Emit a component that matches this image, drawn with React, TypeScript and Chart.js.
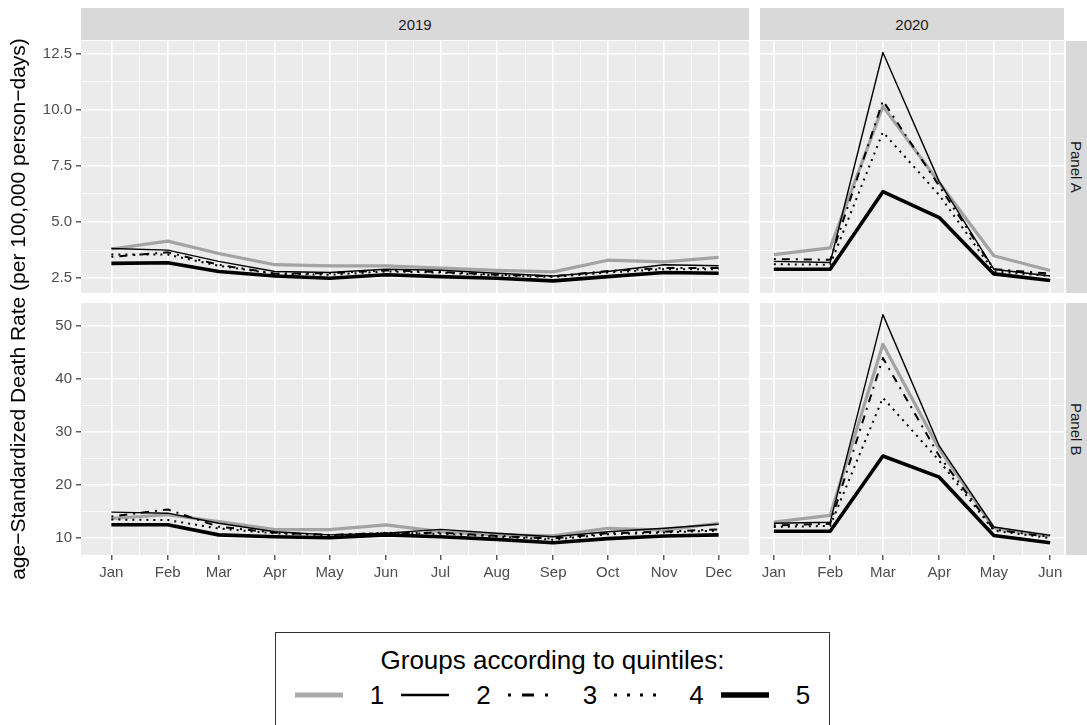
import React, { useEffect, useRef } from 'react';
import { Chart, registerables } from 'chart.js';

Chart.register(...registerables);
Chart.defaults.font.family = "'Liberation Sans', Arial, Helvetica, sans-serif";

// ---------------- data ----------------
const MONTHS_2019 = ['Jan', 'Feb', 'Mar', 'Apr', 'May', 'Jun', 'Jul', 'Aug', 'Sep', 'Oct', 'Nov', 'Dec'];
const MONTHS_2020 = ['Jan', 'Feb', 'Mar', 'Apr', 'May', 'Jun'];
const GROUP_LABELS = ['1', '2', '3', '4', '5'];

// Panel A (rows = quintile groups 1..5)
const PANEL_A_2019 = [
  [3.8, 4.15, 3.6, 3.1, 3.05, 3.05, 2.95, 2.85, 2.78, 3.3, 3.23, 3.43],
  [3.82, 3.75, 3.25, 2.8, 2.75, 2.9, 2.85, 2.72, 2.6, 2.8, 3.1, 3.05],
  [3.45, 3.65, 3.1, 2.7, 2.72, 2.85, 2.78, 2.65, 2.58, 2.82, 2.95, 2.95],
  [3.55, 3.55, 3.05, 2.7, 2.65, 2.8, 2.75, 2.62, 2.55, 2.75, 2.9, 2.9],
  [3.16, 3.19, 2.8, 2.6, 2.5, 2.65, 2.57, 2.5, 2.38, 2.57, 2.75, 2.72],
];
const PANEL_A_2020 = [
  [3.55, 3.85, 10.15, 6.75, 3.5, 2.84],
  [3.25, 3.2, 12.55, 6.8, 2.9, 2.6],
  [3.35, 3.32, 10.4, 6.6, 2.9, 2.7],
  [3.12, 3.1, 9.0, 6.2, 2.8, 2.6],
  [2.9, 2.9, 6.35, 5.2, 2.69, 2.4],
];

// Panel B
const PANEL_B_2019 = [
  [13.7, 14.4, 13.1, 11.6, 11.6, 12.5, 11.2, 10.6, 10.4, 11.85, 11.5, 12.8],
  [14.9, 14.7, 12.8, 11.2, 10.6, 10.9, 11.65, 10.9, 10.25, 11.2, 11.85, 12.6],
  [14.05, 15.4, 12.15, 11.0, 10.6, 10.9, 11.0, 10.4, 9.9, 10.9, 11.2, 11.65],
  [13.5, 13.4, 11.8, 10.9, 10.5, 11.0, 10.8, 10.3, 9.7, 10.7, 11.05, 11.4],
  [12.5, 12.5, 10.6, 10.25, 10.05, 10.6, 10.25, 9.75, 9.1, 9.9, 10.4, 10.6],
];
const PANEL_B_2020 = [
  [13.0, 14.3, 46.6, 26.8, 11.9, 10.4],
  [12.8, 13.0, 52.2, 27.4, 12.1, 10.5],
  [12.4, 12.7, 44.0, 25.5, 11.6, 10.2],
  [12.1, 12.3, 36.5, 24.6, 11.4, 10.0],
  [11.3, 11.3, 25.5, 21.5, 10.5, 9.1],
];

const PANEL_A_TICKS = [2.5, 5.0, 7.5, 10.0, 12.5];
const PANEL_B_TICKS = [10, 20, 30, 40, 50];
const PANEL_A_LIMITS = [1.84, 13.06];
const PANEL_B_LIMITS = [6.8, 54.4];

// ---------------- styles ----------------
const SERIES_STYLE = [
  { color: '#A3A3A3', width: 3.2, dash: [] as number[] },
  { color: '#000000', width: 1.4, dash: [] as number[] },
  { color: '#000000', width: 2, dash: [2, 6, 8, 6] },
  { color: '#000000', width: 2, dash: [2, 5] },
  { color: '#000000', width: 3.6, dash: [] as number[] },
];

const FONT = "'Liberation Sans', Arial, Helvetica, sans-serif";
const PANEL_BG = '#EBEBEB';
const STRIP_BG = '#D9D9D9';
const TICK_TEXT = '#4D4D4D';

const LEFT_X = 81;
const LEFT_W = 668;
const RIGHT_X = 760;
const RIGHT_W = 304;
const TOP_Y = 41;
const BOT_Y = 303;
const ROW_H = 252;
const Y_AXIS_W = 80;
const X_AXIS_H = 32;

function dayOffset(year: number, monthIndex: number): number {
  return Math.round((Date.UTC(year, monthIndex, 1) - Date.UTC(year, 0, 1)) / 86400000);
}

function midpoints(vals: number[]): number[] {
  const out: number[] = [];
  for (let i = 0; i < vals.length - 1; i++) out.push((vals[i] + vals[i + 1]) / 2);
  return out;
}

const panelBg = {
  id: 'panelBg',
  beforeDraw(chart: any) {
    const { ctx, chartArea: a } = chart;
    ctx.save();
    ctx.fillStyle = PANEL_BG;
    ctx.fillRect(a.left, a.top, a.right - a.left, a.bottom - a.top);
    ctx.restore();
  },
};

type PanelProps = {
  year: number;
  months: string[];
  series: number[][];
  yTicks: number[];
  yLimits: number[];
  yDecimals: number;
  showY: boolean;
  showX: boolean;
  left: number;
  top: number;
  width: number;
};

function Panel(p: PanelProps) {
  const ref = useRef<HTMLCanvasElement | null>(null);
  const cw = p.width + (p.showY ? Y_AXIS_W : 0);
  const ch = ROW_H + (p.showX ? X_AXIS_H : 0);
  const cl = p.left - (p.showY ? Y_AXIS_W : 0);

  useEffect(() => {
    if (!ref.current) return;
    const xs = p.months.map((_, i) => dayOffset(p.year, i));
    const span = xs[xs.length - 1] - xs[0];
    const xMin = xs[0] - 0.05 * span;
    const xMax = xs[xs.length - 1] + 0.05 * span;
    const [yMin, yMax] = p.yLimits;
    const yStep = p.yTicks[1] - p.yTicks[0];
    const yMinor = midpoints([p.yTicks[0] - yStep, ...p.yTicks, p.yTicks[p.yTicks.length - 1] + yStep]).filter(
      (v) => v > yMin && v < yMax
    );
    const xMinor = midpoints(xs).filter((v) => v > xMin && v < xMax);

    const makeTicks = (major: number[], minor: number[]) =>
      [...major.map((v) => ({ value: v, kind: 'major' })), ...minor.map((v) => ({ value: v, kind: 'minor' }))].sort(
        (a, b) => a.value - b.value
      );

    const gridOpts = (drawTicks: boolean) => ({
      color: '#FFFFFF',
      lineWidth: (c: any) => (c.tick && c.tick.kind === 'major' ? 1.6 : 0.8),
      tickColor: (c: any) => (c.tick && c.tick.kind === 'major' ? '#333333' : 'rgba(0,0,0,0)'),
      tickWidth: 1.2,
      tickLength: 5,
      drawTicks,
    });

    const chart = new Chart(ref.current, {
      type: 'line',
      data: {
        datasets: p.series.map((vals, g) => ({
          label: GROUP_LABELS[g],
          data: vals.map((v, i) => ({ x: xs[i], y: v })),
          borderColor: SERIES_STYLE[g].color,
          backgroundColor: SERIES_STYLE[g].color,
          borderWidth: SERIES_STYLE[g].width,
          borderDash: SERIES_STYLE[g].dash,
          borderCapStyle: 'butt',
          borderJoinStyle: 'round',
          pointRadius: 0,
          pointHoverRadius: 0,
          tension: 0,
          fill: false,
          order: 4 - g,
        })),
      },
      options: {
        animation: false,
        responsive: false,
        maintainAspectRatio: false,
        devicePixelRatio: 1,
        events: [],
        layout: { padding: 0 },
        plugins: { legend: { display: false }, tooltip: { enabled: false }, title: { display: false } },
        scales: {
          x: {
            type: 'linear',
            min: xMin,
            max: xMax,
            border: { display: false },
            grid: gridOpts(p.showX),
            afterBuildTicks: (scale: any) => {
              scale.ticks = makeTicks(xs, xMinor);
            },
            afterFit: (scale: any) => {
              scale.height = p.showX ? X_AXIS_H : 0;
              scale.paddingLeft = 0;
              scale.paddingRight = 0;
              scale.paddingTop = 0;
              scale.paddingBottom = 0;
            },
            ticks: {
              display: p.showX,
              autoSkip: false,
              maxRotation: 0,
              minRotation: 0,
              padding: 4,
              color: TICK_TEXT,
              font: { size: 15, family: FONT },
              callback: function (_v: any, i: number, ticks: any[]) {
                const t = ticks[i];
                if (t.kind !== 'major') return '';
                return p.months[xs.indexOf(t.value)];
              },
            },
          },
          y: {
            type: 'linear',
            min: yMin,
            max: yMax,
            border: { display: false },
            grid: gridOpts(p.showY),
            afterBuildTicks: (scale: any) => {
              scale.ticks = makeTicks(p.yTicks, yMinor);
            },
            afterFit: (scale: any) => {
              scale.width = p.showY ? Y_AXIS_W : 0;
              scale.paddingLeft = 0;
              scale.paddingRight = 0;
              scale.paddingTop = 0;
              scale.paddingBottom = 0;
            },
            ticks: {
              display: p.showY,
              autoSkip: false,
              padding: 4,
              color: TICK_TEXT,
              font: { size: 15, family: FONT },
              callback: function (_v: any, i: number, ticks: any[]) {
                const t = ticks[i];
                if (t.kind !== 'major') return '';
                return t.value.toFixed(p.yDecimals);
              },
            },
          },
        },
      },
      plugins: [panelBg],
    } as any);
    return () => chart.destroy();
  }, []);

  return (
    <canvas
      ref={ref}
      width={cw}
      height={ch}
      style={{ position: 'absolute', left: cl, top: p.top, width: cw, height: ch }}
    />
  );
}

function LegendKey({ g }: { g: number }) {
  const s = SERIES_STYLE[g];
  const widths = [5, 2.5, 2.8, 2.8, 5.5];
  const dashes = ['', '', '3,11,12,11,3,30', '3,10', ''];
  const colors = ['#ABABAB', '#000', '#000', '#000', '#000'];
  return (
    <svg width={48} height={14} style={{ display: 'block' }}>
      <line
        x1={0}
        y1={7}
        x2={48}
        y2={7}
        stroke={colors[g] || s.color}
        strokeWidth={widths[g]}
        strokeDasharray={dashes[g] || undefined}
      />
    </svg>
  );
}

export default function App() {
  const stripText: React.CSSProperties = {
    position: 'absolute',
    background: STRIP_BG,
    color: '#1A1A1A',
    fontSize: 15,
    fontFamily: FONT,
    display: 'flex',
    alignItems: 'center',
    justifyContent: 'center',
  };
  return (
    <div
      style={{
        position: 'absolute',
        left: 0,
        top: 0,
        width: 1087,
        height: 725,
        overflow: 'hidden',
        background: '#FFFFFF',
        fontFamily: FONT,
      }}
    >
      {/* top strips */}
      <div style={{ ...stripText, left: LEFT_X, top: 8, width: LEFT_W, height: 32 }}>2019</div>
      <div style={{ ...stripText, left: RIGHT_X, top: 8, width: RIGHT_W, height: 32 }}>2020</div>
      {/* right strips */}
      <div style={{ ...stripText, left: 1066, top: TOP_Y, width: 21, height: ROW_H, writingMode: 'vertical-rl' }}>
        Panel A
      </div>
      <div style={{ ...stripText, left: 1066, top: BOT_Y, width: 21, height: ROW_H, writingMode: 'vertical-rl' }}>
        Panel B
      </div>

      <Panel year={2019} months={MONTHS_2019} series={PANEL_A_2019} yTicks={PANEL_A_TICKS} yLimits={PANEL_A_LIMITS}
        yDecimals={1} showY={true} showX={false} left={LEFT_X} top={TOP_Y} width={LEFT_W} />
      <Panel year={2020} months={MONTHS_2020} series={PANEL_A_2020} yTicks={PANEL_A_TICKS} yLimits={PANEL_A_LIMITS}
        yDecimals={1} showY={false} showX={false} left={RIGHT_X} top={TOP_Y} width={RIGHT_W} />
      <Panel year={2019} months={MONTHS_2019} series={PANEL_B_2019} yTicks={PANEL_B_TICKS} yLimits={PANEL_B_LIMITS}
        yDecimals={0} showY={true} showX={true} left={LEFT_X} top={BOT_Y} width={LEFT_W} />
      <Panel year={2020} months={MONTHS_2020} series={PANEL_B_2020} yTicks={PANEL_B_TICKS} yLimits={PANEL_B_LIMITS}
        yDecimals={0} showY={false} showX={true} left={RIGHT_X} top={BOT_Y} width={RIGHT_W} />

      {/* y axis title */}
      <div
        style={{
          position: 'absolute',
          left: 18 - 300,
          top: 309 - 13,
          width: 600,
          height: 26,
          lineHeight: '26px',
          textAlign: 'center',
          fontSize: 21,
          color: '#000',
          transform: 'rotate(-90deg)',
          whiteSpace: 'nowrap',
        }}
      >
        age−Standardized Death Rate (per 100,000 person−days)
      </div>

      {/* legend */}
      <div
        style={{
          position: 'absolute',
          left: 275,
          top: 632,
          width: 555,
          height: 120,
          border: '1.5px solid #333',
          boxSizing: 'border-box',
        }}
      >
        <div
          style={{
            position: 'absolute',
            left: 0,
            right: 0,
            top: 11,
            height: 32,
            lineHeight: '32px',
            textAlign: 'center',
            fontSize: 26,
            color: '#000',
          }}
        >
          Groups according to quintiles:
        </div>
        <div
          style={{
            position: 'absolute',
            left: 0,
            right: 0,
            top: 45,
            height: 34,
            display: 'flex',
            justifyContent: 'center',
            alignItems: 'center',
          }}
        >
          {GROUP_LABELS.map((lab, g) => (
            <div key={lab} style={{ display: 'flex', alignItems: 'center', marginRight: g < 4 ? 17 : 0 }}>
              <LegendKey g={g} />
              <span style={{ fontSize: 26, marginLeft: 27, color: '#000', lineHeight: '34px' }}>{lab}</span>
            </div>
          ))}
        </div>
      </div>
    </div>
  );
}
